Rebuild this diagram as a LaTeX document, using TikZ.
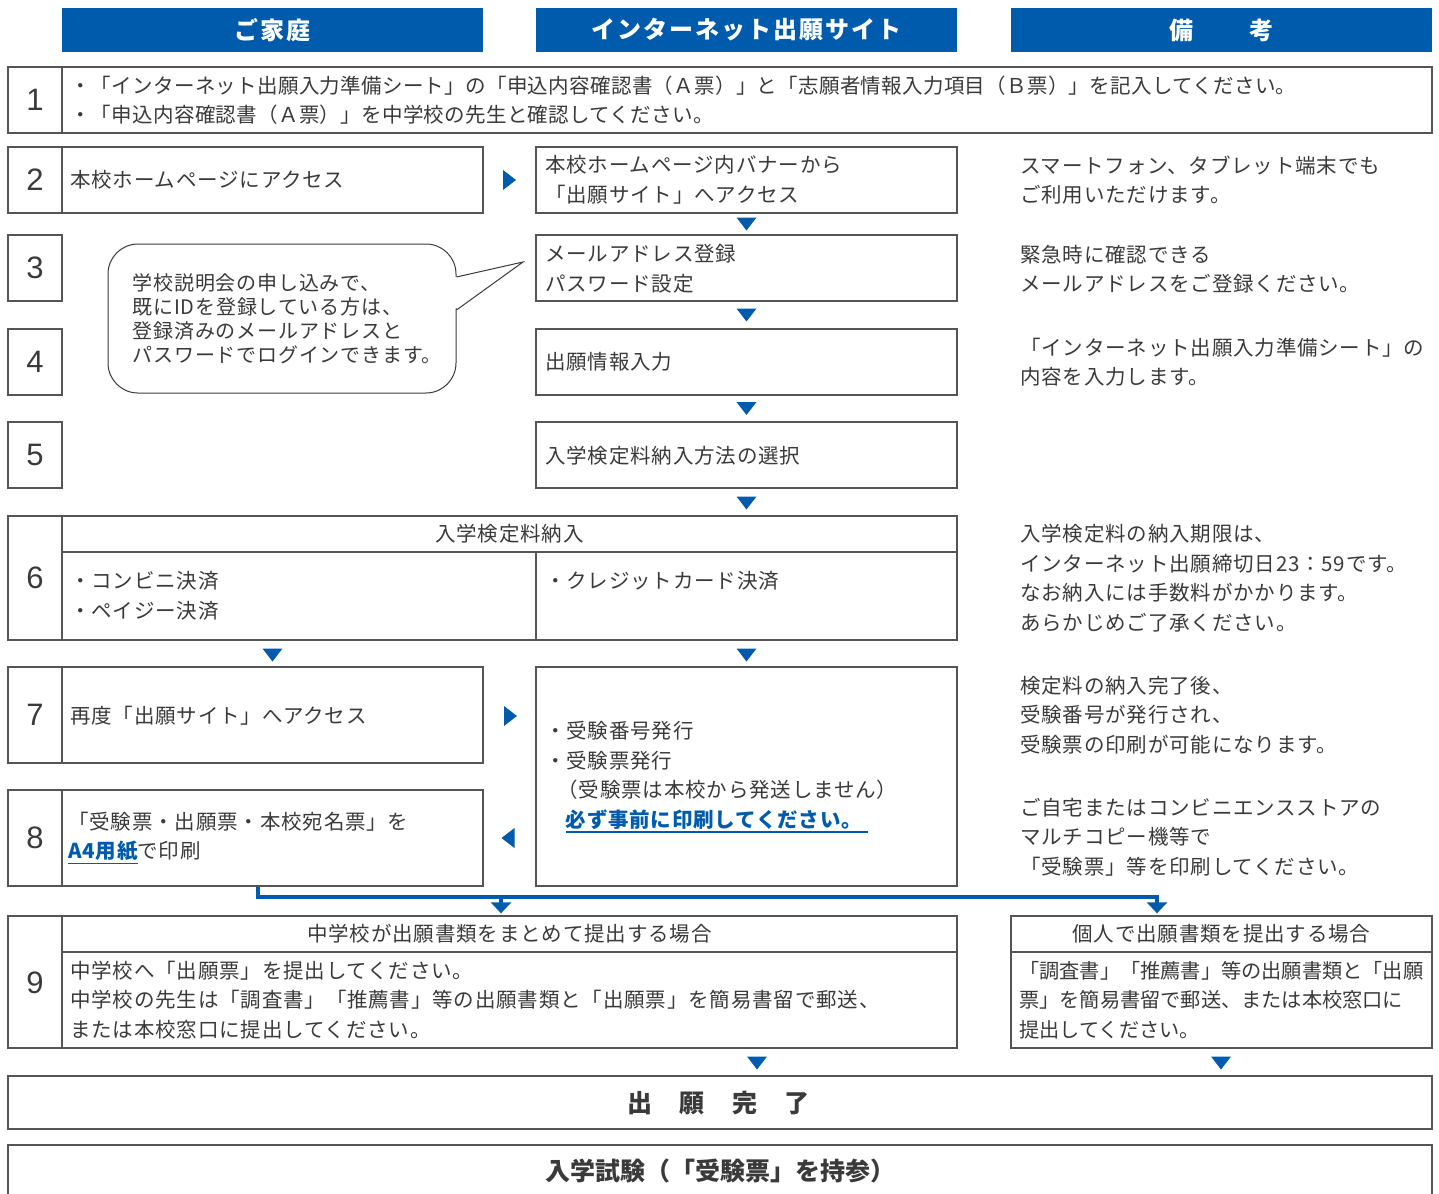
\documentclass[tikz,border=0pt]{standalone}
\usepackage{fontspec}
\setmainfont{Noto Sans CJK JP}
\newfontfamily\jp[LetterSpace=4]{Noto Sans CJK JP}
\newfontfamily\jpa[LetterSpace=1.5]{Noto Sans CJK JP}
\newfontfamily\jpn{Noto Sans CJK JP}
\newfontfamily\jphd[LetterSpace=8]{Noto Sans CJK JP}
\newfontfamily\numf{Liberation Sans}
\usetikzlibrary{arrows.meta,calc}
\definecolor{hdblue}{HTML}{005BAC}
\definecolor{tgray}{HTML}{3A3A3A}
\definecolor{bord}{HTML}{555555}
\newcommand\tdown[1]{\fill[hdblue] #1 ++(-10,-6.5) -- ++(20,0) -- ++(-10,13) -- cycle;}
\newcommand\tright[1]{\fill[hdblue] #1 ++(-6.5,-10) -- ++(13,10) -- ++(-13,10) -- cycle;}
\newcommand\tleft[1]{\fill[hdblue] #1 ++(6.5,-10) -- ++(-13,10) -- ++(13,10) -- cycle;}
\newcommand\blul[1]{{\color{hdblue}\bfseries\vtop{\hbox{#1}\kern1.5pt\hrule height 1.6pt}}}
\begin{document}
\begin{tikzpicture}[x=1pt,y=-1pt,
  bx/.style={draw=bord, line width=1.3pt, inner sep=0pt, fill=white},
  hdr/.style={fill=hdblue, text=white, inner sep=0pt, font=\jphd\bfseries\fontsize{24}{24}\selectfont},
  txt/.style={anchor=west, inner sep=0pt, align=left, text=tgray, font=\jp\fontsize{20.5}{29.5}\selectfont},
  ctr/.style={inner sep=0pt, text=tgray, font=\jp\fontsize{20.5}{29.5}\selectfont},
  ttl/.style={inner sep=0pt, text=tgray, font=\jpn\bfseries\fontsize{25}{25}\selectfont},
  numl/.style={inner sep=0pt, text=tgray, font=\numf\fontsize{31}{31}\selectfont},
  dv/.style={draw=bord, line width=1.3pt},
  bl/.style={draw=hdblue, line width=4pt},
]
\useasboundingbox (0,0) rectangle (1439,1193);

% headers
\node[hdr, minimum width=421pt, minimum height=44pt] (h1) at (272.5,30) {ご家庭};
\node[hdr, minimum width=421pt, minimum height=44pt] (h2) at (746.5,30) {インターネット出願サイト};
\node[hdr, minimum width=421pt, minimum height=44pt] (h3) at (1221.5,30) {備\hspace{56pt}考};

% row 1
\node[bx, minimum width=1424pt, minimum height=66pt] (r1) at (720,100) {};
\draw[dv] (62,67) -- (62,133);
\node[numl] (n1) at (35,100) {1};
\node[txt, font=\jpa\fontsize{20.5}{29.5}\selectfont] (t1) at (70,100) {・「インターネット出願入力準備シート」の「申込内容確認書（Ａ票）」と「志願者情報入力項目（Ｂ票）」を記入してください。\\・「申込内容確認書（Ａ票）」を中学校の先生と確認してください。};

% row 2
\node[bx, minimum width=475pt, minimum height=66pt] (l2) at (245.5,180) {};
\draw[dv] (62,147) -- (62,213);
\node[numl] (n2) at (35,180) {2};
\node[txt] (t2) at (70,180) {本校ホームページにアクセス};
\node[bx, minimum width=421pt, minimum height=66pt] (m2) at (746.5,180) {};
\node[txt] (tm2) at (545,180) {本校ホームページ内バナーから\\「出願サイト」へアクセス};
\node[txt] (nt2) at (1020,180) {スマートフォン、タブレット端末でも\\ご利用いただけます。};

% row 3
\node[bx, numl, minimum width=54pt, minimum height=66pt] (n3) at (35,268) {3};
\node[bx, minimum width=421pt, minimum height=66pt] (m3) at (746.5,268) {};
\node[txt] (tm3) at (545,269) {メールアドレス登録\\パスワード設定};
\node[txt] (nt3) at (1020,269) {緊急時に確認できる\\メールアドレスをご登録ください。};

% row 4
\node[bx, numl, minimum width=54pt, minimum height=66pt] (n4) at (35,362) {4};
\node[bx, minimum width=421pt, minimum height=66pt] (m4) at (746.5,362) {};
\node[txt] (tm4) at (545,362) {出願情報入力};
\node[txt] (nt4) at (1020,362) {「インターネット出願入力準備シート」の\\内容を入力します。};

% row 5
\node[bx, numl, minimum width=54pt, minimum height=66pt] (n5) at (35,455) {5};
\node[bx, minimum width=421pt, minimum height=66pt] (m5) at (746.5,455) {};
\node[txt] (tm5) at (545,456) {入学検定料納入方法の選択};

% bubble
\node[draw=tgray, line width=1pt, rounded corners=30pt, minimum width=348pt, minimum height=149pt, inner sep=0pt, fill=white] (bub) at (282,318.5) {};
\coordinate (tip) at (523,262);
\fill[white] ($(bub.east)+(-2.5,-41)$) -- (tip) -- ($(bub.east)+(-2.5,-9)$) -- cycle;
\draw[tgray, line width=1pt] ($(bub.east)+(0,-41.5)$) -- (tip) -- ($(bub.east)+(0,-8.5)$);
\node[anchor=west, inner sep=0pt, align=left, text=tgray, font=\jp\fontsize{20}{24}\selectfont] (bt) at ($(bub.west)+(25,0)$) {学校説明会の申し込みで、\\既にIDを登録している方は、\\登録済みのメールアドレスと\\パスワードでログインできます。};

% row 6
\node[bx, minimum width=949pt, minimum height=124pt] (r6) at (482.5,578) {};
\draw[dv] (62,516) -- (62,640);
\draw[dv] (62,552) -- (957,552);
\draw[dv] (536,552) -- (536,640);
\node[numl] (n6) at (35,578) {6};
\node[ctr] (h6) at (509.5,534) {入学検定料納入};
\node[txt] (t6a) at (70,596) {・コンビニ決済\\・ペイジー決済};
\node[txt] (t6b) at (545,581) {・クレジットカード決済};
\node[txt] (nt6) at (1020,578) {入学検定料の納入期限は、\\インターネット出願締切日23：59です。\\なお納入には手数料がかかります。\\あらかじめご了承ください。};

% row 7
\node[bx, minimum width=475pt, minimum height=96pt] (l7) at (245.5,715) {};
\draw[dv] (62,667) -- (62,763);
\node[numl] (n7) at (35,715) {7};
\node[txt] (t7) at (70,716) {再度「出願サイト」へアクセス};
\node[bx, minimum width=421pt, minimum height=219pt] (m7) at (746.5,776.5) {};
\node[txt] (tm7) at (545,777) {・受験番号発行\\・受験票発行\\\hspace*{0.6em}（受験票は本校から発送しません）\\\hspace*{1em}\blul{必ず事前に印刷してください。\kern6pt}};
\node[txt] (nt7) at (1020,715) {検定料の納入完了後、\\受験番号が発行され、\\受験票の印刷が可能になります。};

% row 8
\node[bx, minimum width=475pt, minimum height=96pt] (l8) at (245.5,838) {};
\draw[dv] (62,790) -- (62,886);
\node[numl] (n8) at (35,838) {8};
\node[txt] (t8) at (68,838) {「受験票・出願票・本校宛名票」を\\\blul{A4用紙}で印刷};
\node[txt] (nt8) at (1020,837) {ご自宅またはコンビニエンスストアの\\マルチコピー機等で\\「受験票」等を印刷してください。};

% row 9
\node[bx, minimum width=949pt, minimum height=132pt] (r9L) at (482.5,982) {};
\draw[dv] (62,916) -- (62,1048);
\draw[dv] (62,952) -- (957,952);
\node[numl] (n9) at (35,983) {9};
\node[ctr] (h9L) at (509.5,934) {中学校が出願書類をまとめて提出する場合};
\node[txt] (t9L) at (70,1000) {中学校へ「出願票」を提出してください。\\中学校の先生は「調査書」「推薦書」等の出願書類と「出願票」を簡易書留で郵送、\\または本校窓口に提出してください。};
\node[bx, minimum width=421pt, minimum height=132pt] (r9R) at (1221.5,982) {};
\draw[dv] (1011,952) -- (1432,952);
\node[ctr] (h9R) at (1221.5,934) {個人で出願書類を提出する場合};
\node[txt, font=\jpn\fontsize{20.2}{29.5}\selectfont] (t9R) at (1019,1000) {「調査書」「推薦書」等の出願書類と「出願\\票」を簡易書留で郵送、または本校窓口に\\提出してください。};

% final boxes
\node[bx, minimum width=1424pt, minimum height=53pt] (done) at (720,1102.5) {};
\node[ttl] (tdone) at (718.5,1103) {出\hspace{27.5pt}願\hspace{27.5pt}完\hspace{27.5pt}了};
\node[bx, minimum width=1424pt, minimum height=70pt] (exam) at (720,1180) {};
\node[ttl, font=\jpn\bfseries\fontsize{25}{25}\selectfont] (texam) at (720,1171) {入学試験（「受験票」を持参）};

% triangles
\tright{($(l2.east)!.5!(m2.west)$)}
\tdown{($(m2.south)!.5!(m3.north)$)}
\tdown{($(m3.south)!.5!(m4.north)$)}
\tdown{($(m4.south)!.5!(m5.north)$)}
\tdown{(746.5,503)}
\tdown{(272.5,655)}
\tdown{(746.5,655)}
\tright{(510.5,716)}
\tleft{(508,838)}
\tdown{(757,1063)}
\tdown{(1221,1063)}

% blue connector
\coordinate (bs) at (258,886.5);
\coordinate (jL) at (501,897);
\coordinate (jR) at (1157,897);
\draw[bl] (bs) |- ($(jR)+(2,0)$);
\draw[bl, -{Triangle[width=20pt,length=11pt]}, shorten >=2pt] (jL) -- (jL |- r9L.north);
\draw[bl, -{Triangle[width=20pt,length=11pt]}, shorten >=2pt] (jR) -- (jR |- r9R.north);
\end{tikzpicture}
\end{document}
